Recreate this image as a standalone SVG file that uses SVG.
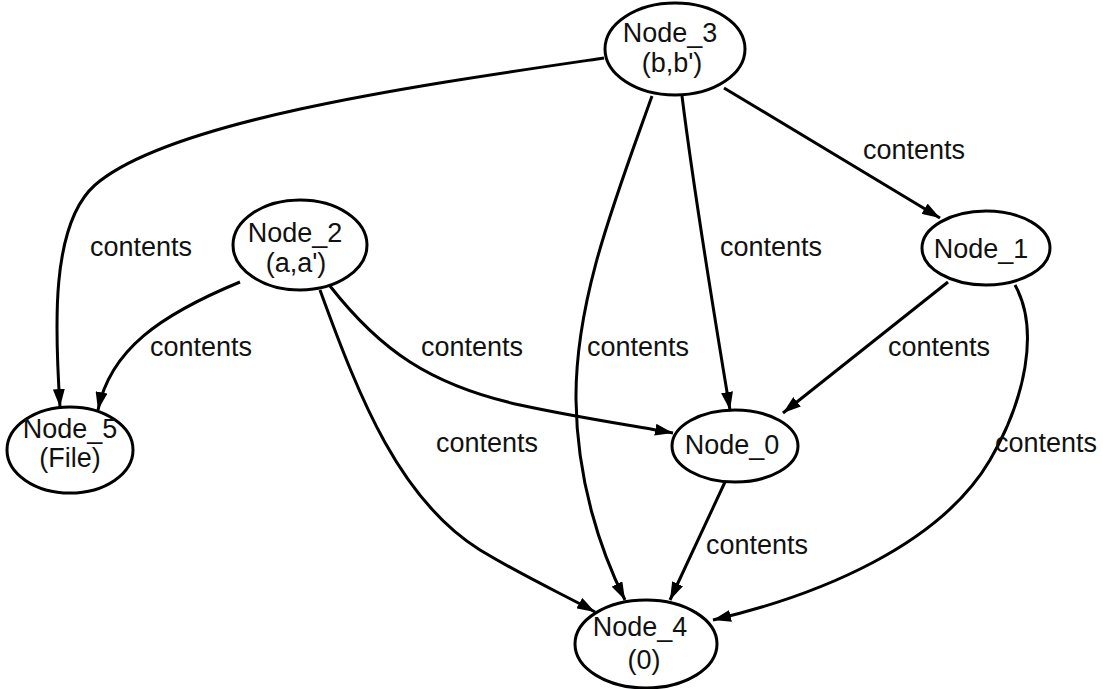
<svg xmlns="http://www.w3.org/2000/svg" width="1103" height="689" viewBox="0 0 1103 689">
<style>
.n ellipse{fill:#fff;stroke:#000;stroke-width:3}
text{font-family:"Liberation Sans",Arial,sans-serif;font-size:27px;fill:#111;text-anchor:middle}
.e path{fill:none;stroke:#000;stroke-width:3;marker-end:url(#ah)}
</style>
<defs>
<marker id="ah" viewBox="0 0 18 12" refX="18" refY="6" markerWidth="18" markerHeight="12" markerUnits="userSpaceOnUse" orient="auto">
<path d="M0,0 L18,6 L0,12 z" fill="#000"/>
</marker>
</defs>
<rect width="1103" height="689" fill="#fff"/>
<g id="edges" class="e">
<path d="M604,58 C420,85 170,120 95,185 C50,225 55,330 60,407"/>
<path d="M724,88 L940,218"/>
<path d="M682,96 C695,200 715,320 730,410"/>
<path d="M652,96 C615,200 575,300 576,400 C577,480 600,550 625,600"/>
<path d="M240,282 C160,315 110,350 98,410"/>
<path d="M330,286 C380,350 430,385 520,405 C580,418 630,425 673,433"/>
<path d="M320,290 C360,400 400,500 480,550 C530,580 565,595 595,612"/>
<path d="M948,282 L783,413"/>
<path d="M1015,285 C1040,330 1025,400 990,460 C940,545 820,595 713,620"/>
<path d="M725,482 L670,600"/>
</g>
<g id="edge-labels">
<text x="914" y="159">contents</text>
<text x="141" y="256">contents</text>
<text x="771" y="256">contents</text>
<text x="201" y="356">contents</text>
<text x="472" y="356">contents</text>
<text x="638" y="356">contents</text>
<text x="939" y="356">contents</text>
<text x="487" y="452">contents</text>
<text x="1046" y="452">contents</text>
<text x="757" y="554">contents</text>
</g>
<g id="Node_3" class="n"><ellipse cx="675" cy="49" rx="70" ry="46"/><text x="670" y="42">Node_3</text><text x="672" y="72">(b,b')</text></g>
<g id="Node_2" class="n"><ellipse cx="300" cy="245" rx="67" ry="45"/><text x="295" y="242">Node_2</text><text x="296" y="272">(a,a')</text></g>
<g id="Node_5" class="n"><ellipse cx="70" cy="450" rx="63" ry="43"/><text x="70" y="438">Node_5</text><text x="70" y="467">(File)</text></g>
<g id="Node_4" class="n"><ellipse cx="646" cy="644" rx="71" ry="44"/><text x="640" y="636">Node_4</text><text x="644" y="669">(0)</text></g>
<g id="Node_1" class="n"><ellipse cx="986" cy="248" rx="64" ry="37"/><text x="981" y="258">Node_1</text></g>
<g id="Node_0" class="n"><ellipse cx="735" cy="446" rx="63" ry="36"/><text x="732" y="454">Node_0</text></g>
</svg>
